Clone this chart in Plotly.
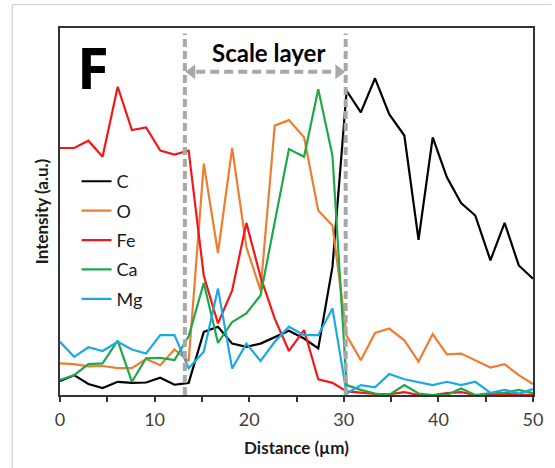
import plotly.graph_objects as go

# ---- data ----
distance = [0.0, 1.5, 3.0, 4.5, 6.1, 7.6, 9.1, 10.6, 12.1, 13.6, 15.2, 16.7, 18.2, 19.7,
            21.2, 22.7, 24.2, 25.8, 27.3, 28.8, 30.3, 31.8, 33.3, 34.8, 36.4, 37.9, 39.4,
            40.9, 42.4, 43.9, 45.5, 47.0, 48.5, 50.0]

c_vals = [3.8, 5.4, 3.0, 1.9, 3.6, 3.3, 3.4, 4.7, 2.8, 3.3, 17.2, 18.6, 14.0, 13.1, 14.0,
          15.7, 17.5, 15.4, 12.7, 34.9, 82.9, 77.0, 86.3, 76.5, 70.7, 42.3, 70.2, 59.3,
          52.3, 48.9, 36.7, 46.9, 35.3, 31.7]
o_vals = [8.6, 8.4, 7.8, 7.9, 7.3, 7.3, 9.8, 8.1, 12.4, 9.2, 63.0, 38.7, 67.3, 40.3, 28.5,
          73.4, 74.9, 70.2, 50.3, 46.2, 16.2, 9.5, 16.9, 18.1, 14.9, 9.1, 16.6, 11.1,
          11.3, 9.5, 7.5, 8.4, 5.4, 3.0]
fe_vals = [67.3, 67.3, 69.3, 64.9, 84.0, 72.2, 72.9, 66.6, 65.5, 66.6, 32.5, 19.5, 28.5,
           46.9, 32.2, 20.8, 12.0, 17.7, 4.3, 3.3, 1.0, 0.6, 0.3, 0.2, 0.8, 0.0, 0.0, 0.5,
           0.8, 0.0, 0.0, 0.3, 0.2, 0.0]
ca_vals = [4.1, 5.4, 8.4, 8.6, 14.8, 3.6, 10.0, 10.1, 9.5, 16.0, 30.5, 14.2, 19.9, 22.2,
           27.2, 47.6, 67.0, 64.9, 83.3, 65.2, 2.7, 1.4, 0.4, 0.0, 2.7, 0.4, 0.0, 0.0, 1.8,
           0.0, 0.5, 0.6, 1.4, 0.5]
mg_vals = [14.5, 10.4, 13.0, 12.0, 14.5, 12.4, 11.3, 16.3, 16.3, 7.3, 11.8, 29.0, 7.2, 14.0,
           9.3, 14.5, 18.6, 16.3, 16.3, 23.6, 0.4, 2.7, 2.1, 5.7, 4.3, 3.6, 2.7, 3.6, 2.7,
           3.6, 0.6, 1.4, 0.4, 1.6]

series_names = ["C", "O", "Fe", "Ca", "Mg"]
series_vals = [c_vals, o_vals, fe_vals, ca_vals, mg_vals]
series_colors = ["#000000", "#ED7D31", "#F01818", "#1FA84A", "#1CA8E4"]

x_ticks = [0, 10, 20, 30, 40, 50]
layer_bounds = [13.2, 30.2]   # scale-layer boundaries (µm)
panel_label = "F"
layer_label = "Scale layer"

GRAY = "#A8A8A8"
FONT = "Lato"

fig = go.Figure()
for name, vals, col in zip(series_names, series_vals, series_colors):
    fig.add_trace(go.Scatter(
        x=distance, y=vals, mode="lines", name=name, legendgroup=name,
        line=dict(color=col, width=2.2), hoverinfo="skip"))

# arrow heads of the scale-layer arrow
fig.add_trace(go.Scatter(
    x=[layer_bounds[0] + 0.75, layer_bounds[1] - 0.75], y=[88.1, 88.1], mode="markers",
    marker=dict(symbol=["triangle-left", "triangle-right"], size=13, color=GRAY,
                line=dict(width=0)),
    showlegend=False, hoverinfo="skip"))

shapes = []
for xb in layer_bounds:
    shapes.append(dict(type="line", xref="x", yref="paper", x0=xb, x1=xb, y0=0, y1=0.985,
                       line=dict(color=GRAY, width=4, dash="8px,4px"), layer="above"))
shapes.append(dict(type="line", xref="x", yref="y", x0=layer_bounds[0] + 1.2,
                   x1=layer_bounds[1] - 1.2, y0=88.1, y1=88.1,
                   line=dict(color=GRAY, width=4, dash="9px,5px"), layer="above"))
# outer light frame of the figure
shapes.append(dict(type="line", xref="paper", yref="paper", x0=-0.101, x1=-0.101,
                   y0=-0.21, y1=1.064, line=dict(color="#CFCFCF", width=1.2)))
shapes.append(dict(type="line", xref="paper", yref="paper", x0=-0.101, x1=1.04,
                   y0=1.064, y1=1.064, line=dict(color="#CFCFCF", width=1.2)))

annotations = [
    dict(x=3.45, y=89.4, xref="x", yref="y", text=f"<b>{panel_label}</b>", showarrow=False,
         font=dict(family="Open Sans", size=58, color="#000000")),
    dict(x=22.0, y=93.3, xref="x", yref="y", text=f"<b>{layer_label}</b>", showarrow=False,
         font=dict(family=FONT, size=24, color="#000000")),
]

fig.update_layout(
    width=555, height=468,
    margin=dict(l=60, r=15, t=28, b=73),
    paper_bgcolor="white", plot_bgcolor="white",
    font=dict(family=FONT, color="#404040"),
    shapes=shapes, annotations=annotations,
    legend=dict(x=0.035, y=0.632, xanchor="left", yanchor="top",
                bgcolor="rgba(0,0,0,0)", borderwidth=0,
                font=dict(family=FONT, size=18, color="#1a1a1a"),
                tracegroupgap=3, itemwidth=30),
    xaxis=dict(range=[0, 50], tickvals=x_ticks, ticks="outside", ticklen=5,
               tickwidth=1.5, tickcolor="#333333", ticklabelstandoff=2,
               showline=True, linecolor="#333333", linewidth=2, mirror=True,
               showgrid=False, zeroline=False,
               tickfont=dict(family=FONT, size=18, color="#404040"),
               minor=dict(dtick=5, tick0=0, ticks="outside", ticklen=5, tickwidth=1.5,
                          tickcolor="#333333", showgrid=False),
               title=dict(text="<b>Distance (µm)</b>", standoff=14,
                          font=dict(family=FONT, size=17, color="#1a1a1a"))),
    yaxis=dict(range=[0, 100], showticklabels=False, ticks="",
               showline=True, linecolor="#333333", linewidth=2, mirror=True,
               showgrid=False, zeroline=False,
               title=dict(text="<b>Intensity (a.u.)</b>", standoff=5,
                          font=dict(family=FONT, size=17, color="#1a1a1a"))),
)

fig.write_html("out.html", config={"displayModeBar": False},
               post_script="document.body.style.margin='0';document.body.style.overflow='hidden';")
